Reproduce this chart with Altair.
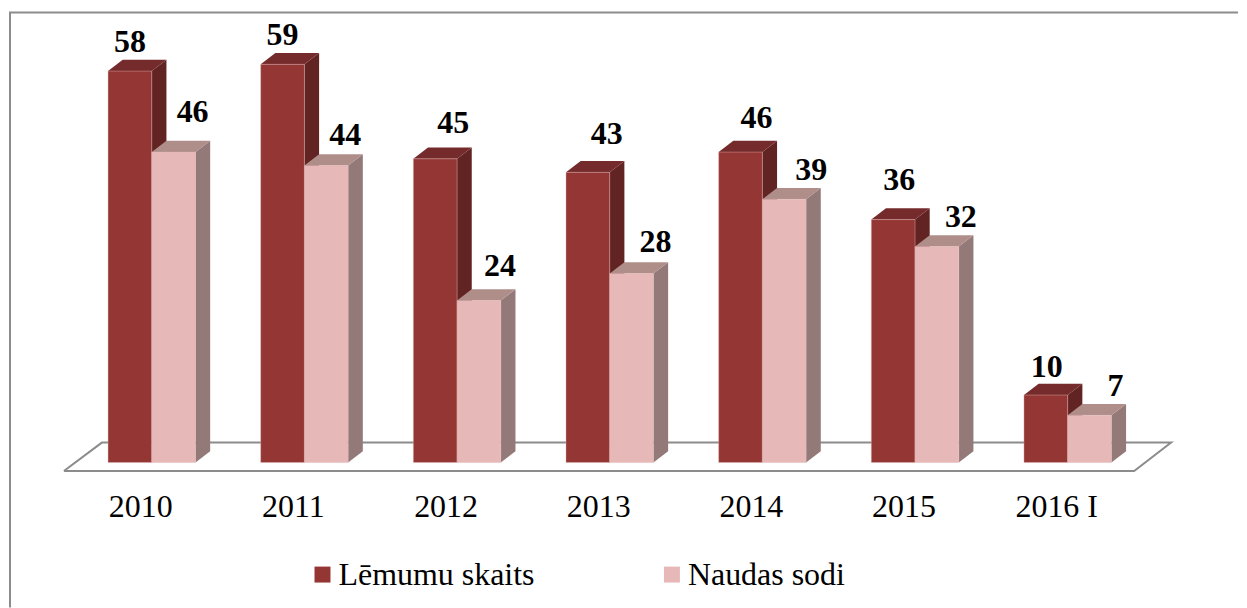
import altair as alt
import pandas as pd

categories = ["2010", "2011", "2012", "2013", "2014", "2015", "2016 I"]
lemumu = [58, 59, 45, 43, 46, 36, 10]
sodi = [46, 44, 24, 28, 39, 32, 7]
series_names = ["Lēmumu skaits", "Naudas sodi"]
front_colors = ["#943634", "#E6B9B8"]
side_colors = ["#622423", "#947979"]
top_colors = ["#752B2B", "#AF8E8A"]

# hand placement of the value labels, in pixels from the top centre of each bar
dark_nudge_x = [0, 0, 18, 19, 16, 6, 1]
dark_nudge_y = [19, 19, 26, 28, 24, 30, 18]
light_nudge_x = [19, 19, 21, 24, 27, 24, 26]
light_nudge_y = [30, 21, 25, 22, 19, 20, 19]

W, H = 1231, 600
ORIGIN_X = 151.0
ORIGIN_Y = 462.8
PX_X = 152.9   # pixels per category
PX_Y = 6.76    # pixels per value unit
HALF = 43.8 / PX_X
DEPTH_X = 14.7 / PX_X
DEPTH_Y = 11.3 / PX_Y
x_dom = [(8 - ORIGIN_X) / PX_X, (8 + W - ORIGIN_X) / PX_X]
y_dom = [(ORIGIN_Y - 8 - H) / PX_Y, (ORIGIN_Y - 8) / PX_Y]
xs = alt.Scale(domain=x_dom, nice=False, zero=False)
ys = alt.Scale(domain=y_dom, nice=False, zero=False)

fronts, sides, tops, labels = [], [], [], []
for s, (vals, nx, ny) in enumerate(
    [(lemumu, dark_nudge_x, dark_nudge_y), (sodi, light_nudge_x, light_nudge_y)]
):
    for i, v in enumerate(vals):
        left = i + (s - 1) * HALF
        right = left + HALF
        key = f"{s}-{i}"
        fronts.append(dict(series=series_names[s], left=left, right=right, base=0, value=v))
        sides += [
            dict(key=key, x=right, lo=0, hi=v),
            dict(key=key, x=right + DEPTH_X, lo=DEPTH_Y, hi=v + DEPTH_Y),
        ]
        tops += [
            dict(key=key, x=left, lo=v, hi=v),
            dict(key=key, x=left + DEPTH_X, lo=v, hi=v + DEPTH_Y),
            dict(key=key, x=right, lo=v, hi=v + DEPTH_Y),
            dict(key=key, x=right + DEPTH_X, lo=v + DEPTH_Y, hi=v + DEPTH_Y),
        ]
        labels.append(dict(x=(left + right) / 2 + nx[i] / PX_X, y=v + ny[i] / PX_Y, text=str(v)))

sides_df = pd.DataFrame(sides)
tops_df = pd.DataFrame(tops)
n = len(categories)


def face(df, s, color):
    d = df[df["key"].str.startswith(f"{s}-")]
    return (
        alt.Chart(d)
        .mark_area(color=color, interpolate="linear")
        .encode(
            x=alt.X("x:Q", scale=xs, axis=None),
            y=alt.Y("lo:Q", scale=ys, axis=None, stack=None),
            y2="hi:Q",
            detail="key:N",
        )
    )


# floor outline, in the same units as the bars
floor_df = pd.DataFrame(
    {
        "x": [(63 - ORIGIN_X) / PX_X, (101 - ORIGIN_X) / PX_X, (1172 - ORIGIN_X) / PX_X,
              (1135 - ORIGIN_X) / PX_X, (63 - ORIGIN_X) / PX_X],
        "y": [-8.4 / PX_Y, 20 / PX_Y, 20 / PX_Y, -8.4 / PX_Y, -8.4 / PX_Y],
        "o": [0, 1, 2, 3, 4],
    }
)
floor = (
    alt.Chart(floor_df)
    .mark_line(color="#8C8C8C", strokeWidth=2, strokeJoin="miter")
    .encode(
        x=alt.X("x:Q", scale=xs, axis=None),
        y=alt.Y("y:Q", scale=ys, axis=None),
        order="o:Q",
    )
)

frame_left = alt.Chart().mark_rule(color="#8C8C8C", strokeWidth=2).encode(
    x=alt.value(1), y=alt.value(4), y2=alt.value(H)
)
frame_top = alt.Chart().mark_rule(color="#8C8C8C", strokeWidth=2).encode(
    y=alt.value(4), x=alt.value(0), x2=alt.value(W)
)

front = (
    alt.Chart(pd.DataFrame(fronts))
    .mark_bar(stroke="#E6B9B8", strokeWidth=1, strokeOpacity=0.4)
    .encode(
        x=alt.X("left:Q", scale=xs, axis=None),
        x2="right:Q",
        y=alt.Y("base:Q", scale=ys, axis=None),
        y2="value:Q",
        color=alt.Color(
            "series:N",
            scale=alt.Scale(domain=series_names, range=front_colors),
            legend=alt.Legend(
                title=None,
                orient="none",
                legendX=298,
                legendY=551,
                direction="horizontal",
                columns=2,
                columnPadding=121,
                symbolType="square",
                symbolSize=256,
                symbolStrokeWidth=0,
                labelFont="Liberation Serif",
                labelFontSize=32,
                labelColor="#000000",
                labelOffset=0,
                labelLimit=400,
            ),
        ),
    )
)

value_labels = (
    alt.Chart(pd.DataFrame(labels))
    .mark_text(font="Liberation Serif", fontSize=32, fontWeight="bold", color="#000000",
               align="center", baseline="alphabetic")
    .encode(x=alt.X("x:Q", scale=xs, axis=None), y=alt.Y("y:Q", scale=ys, axis=None), text="text:N")
)

cat_df = pd.DataFrame(
    {"x": [i - 11 / PX_X for i in range(n)], "y": [-55 / PX_Y] * n, "text": categories}
)
cat_labels = (
    alt.Chart(cat_df)
    .mark_text(font="Liberation Serif", fontSize=32, color="#000000",
               align="center", baseline="alphabetic")
    .encode(x=alt.X("x:Q", scale=xs, axis=None), y=alt.Y("y:Q", scale=ys, axis=None), text="text:N")
)

chart = (
    alt.layer(
        frame_left,
        frame_top,
        floor,
        face(sides_df, 0, side_colors[0]),
        face(tops_df, 0, top_colors[0]),
        face(sides_df, 1, side_colors[1]),
        face(tops_df, 1, top_colors[1]),
        front,
        value_labels,
        cat_labels,
    )
    .properties(width=W, height=H, padding=0, background="#FFFFFF")
    .configure_view(stroke=None)
)

chart.save("out.html", embed_options={"renderer": "svg", "actions": False})
